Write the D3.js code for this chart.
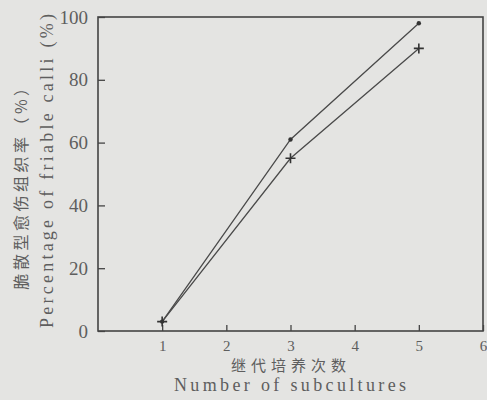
<html>
<head>
<script src="https://d3js.org/d3.v7.min.js"></script>
<style>
  body { margin: 0; background: #e4e4e2; }
</style>
</head>
<body>
<script>
// subculture counts and friable calli percentages
const subcultures = [1, 3, 5]
const dotSeries = [3, 61, 98]
const crossSeries = [3, 55, 90]
const xTicks = [1, 2, 3, 4, 5, 6]
const yTicks = [0, 20, 40, 60, 80, 100]

const serif = "'Times New Roman', 'Liberation Serif', 'DejaVu Serif', serif"
const cjk = "'Noto Sans CJK SC', sans-serif"
const textColor = "#5e5e5e"

const svg = d3.select("body").append("svg")
    .attr("width", 487)
    .attr("height", 400)

const x = d3.scaleLinear().domain([0, 6]).range([98, 483])
const y = d3.scaleLinear().domain([0, 100]).range([331, 17])

// frame
svg.append("rect")
    .attr("x", x(0)).attr("y", y(100))
    .attr("width", x(6) - x(0)).attr("height", y(0) - y(100))
    .attr("fill", "none").attr("stroke", "#444").attr("stroke-width", 1.6)

const xAxis = svg.append("g")
    .attr("transform", `translate(0,${y(0)})`)
    .call(d3.axisBottom(x).tickValues(xTicks).tickFormat(d3.format("d"))
        .tickSizeInner(-6).tickSizeOuter(0).tickPadding(9))
xAxis.select(".domain").remove()
xAxis.selectAll("line").attr("stroke", "#444").attr("stroke-width", 1.3)
xAxis.selectAll("text").style("font-size", "15px").style("font-family", serif).attr("fill", textColor)

const yAxis = svg.append("g")
    .attr("transform", `translate(${x(0)},0)`)
    .call(d3.axisLeft(y).tickValues(yTicks).tickFormat(d3.format("d"))
        .tickSizeInner(-7).tickSizeOuter(0).tickPadding(10))
yAxis.select(".domain").remove()
yAxis.selectAll("line").attr("stroke", "#444").attr("stroke-width", 1.3)
yAxis.selectAll("text").style("font-size", "19px").style("font-family", serif).attr("fill", textColor)

const line = d3.line().x(d => x(d[0])).y(d => y(d[1]))

const dots = subcultures.map((s, i) => [s, dotSeries[i]])
const crosses = subcultures.map((s, i) => [s, crossSeries[i]])

svg.append("path").datum(dots).attr("d", line)
    .attr("fill", "none").attr("stroke", "#4a4a4a").attr("stroke-width", 1.3)
svg.append("path").datum(crosses).attr("d", line)
    .attr("fill", "none").attr("stroke", "#4a4a4a").attr("stroke-width", 1.3)

svg.selectAll(".dot").data(dots).enter().append("circle")
    .attr("cx", d => x(d[0])).attr("cy", d => y(d[1])).attr("r", 2.2)
    .attr("fill", "#333")

svg.selectAll(".cross").data(crosses).enter().append("path")
    .attr("transform", d => `translate(${x(d[0])},${y(d[1])})`)
    .attr("d", "M-5,0H5M0,-5V5")
    .attr("stroke", "#333").attr("stroke-width", 1.6)

// axis titles
svg.append("text")
    .attr("x", 291).attr("y", 371).attr("text-anchor", "middle")
    .style("font-family", cjk).style("font-size", "15px").attr("letter-spacing", 5)
    .attr("fill", textColor)
    .text("继代培养次数")
svg.append("text")
    .attr("x", 290).attr("y", 391).attr("text-anchor", "middle")
    .style("font-family", serif).style("font-size", "18px")
    .attr("textLength", 232).attr("lengthAdjust", "spacing")
    .attr("fill", textColor)
    .text("Number of subcultures")

svg.append("text")
    .attr("transform", "translate(27,183) rotate(-90)").attr("text-anchor", "middle")
    .style("font-family", cjk).style("font-size", "16px").attr("letter-spacing", 3.5)
    .attr("fill", textColor)
    .text("脆散型愈伤组织率（%）")
svg.append("text")
    .attr("transform", "translate(53,171) rotate(-90)").attr("text-anchor", "middle")
    .style("font-family", serif).style("font-size", "18px")
    .attr("textLength", 314).attr("lengthAdjust", "spacing")
    .attr("fill", textColor)
    .text("Percentage of friable calli (%)")
</script>
</body>
</html>
